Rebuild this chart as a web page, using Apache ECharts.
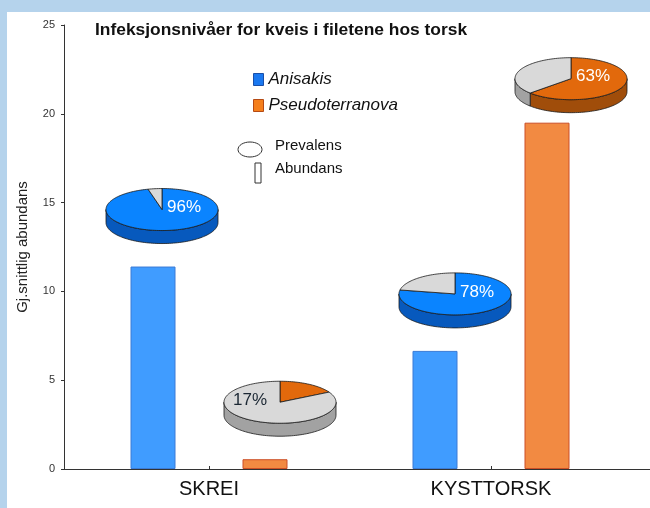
<!DOCTYPE html>
<html>
<head>
<meta charset="utf-8">
<script src="https://cdn.jsdelivr.net/npm/echarts@6/dist/echarts.min.js"></script>
<style>
  html, body { margin: 0; padding: 0; width: 650px; height: 508px; background: #b5d3ec; overflow: hidden; }
  #chart { position: absolute; left: 7px; top: 12px; width: 643px; height: 496px; background: #fff; }
</style>
</head>
<body>
<div id="chart"></div>
<script>
// data
const categories = ['SKREI', 'KYSTTORSK']
const speciesNames = ['Anisakis', 'Pseudoterranova']
const anisakisAbundance = [11.4, 6.65]
const pseudoAbundance = [0.55, 19.5]
const anisakisPrevalence = [96, 78]
const pseudoPrevalence = [17, 63]

// layout / style
const FONT = '"Liberation Sans", Arial, sans-serif'
const BAR_W = 45
const BAR_GAP = 67
const PIE = { rx: 56, ry: 21, depth: 13 }
// pie centre relative to the top of its bar, [species][category]
const pieNudge = [
  [[9, -57], [20, -57]],
  [[15, -57], [24, -44]],
]
const EDGE = '#1a1a1a'
const pieColors = [
  { top: '#0a84ff', side: '#0759bd' },
  { top: '#e2690c', side: '#a04d0a' },
]
const greyPie = { top: '#d9d9d9', side: '#a2a2a2' }

function ellipsePt(cx, cy, deg, dy) {
  const r = deg * Math.PI / 180
  return [cx + PIE.rx * Math.sin(r), cy - PIE.ry * Math.cos(r) + dy]
}

function arcPts(cx, cy, a, b, dy) {
  const pts = []
  const n = Math.max(2, Math.ceil((b - a) / 2))
  for (let i = 0; i <= n; i++) pts.push(ellipsePt(cx, cy, a + (b - a) * i / n, dy))
  return pts
}

function renderPie(params, api) {
  const cat = api.value(0)
  const s = api.value(2)
  const pct = api.value(3)
  const base = api.coord([cat, api.value(1)])
  const shift = (s === 0 ? -1 : 1) * (BAR_W + BAR_GAP) / 2
  const cx = base[0] + shift + pieNudge[s][cat][0]
  const cy = base[1] + pieNudge[s][cat][1]
  const col = pieColors[s]
  const split = pct * 3.6
  const slices = [
    [0, split, col.top, col.side],
    [split, 360, greyPie.top, greyPie.side],
  ]
  const children = []
  // front rim
  slices.forEach(([a, b, , side]) => {
    const lo = Math.max(a, 90)
    const hi = Math.min(b, 270)
    if (hi <= lo) return
    const upper = arcPts(cx, cy, lo, hi, 0)
    const lower = arcPts(cx, cy, lo, hi, PIE.depth).reverse()
    children.push({
      type: 'polygon',
      shape: { points: upper.concat(lower) },
      style: { fill: side, stroke: EDGE, lineWidth: 0.8 },
    })
  })
  // top face
  slices.forEach(([a, b, top]) => {
    if (b <= a) return
    children.push({
      type: 'polygon',
      shape: { points: [[cx, cy]].concat(arcPts(cx, cy, a, b, 0)) },
      style: { fill: top, stroke: EDGE, lineWidth: 0.8 },
    })
  })
  const major = pct >= 50
  children.push({
    type: 'text',
    style: {
      text: pct + '%',
      x: cx + (major ? 22 : -30),
      y: cy - 2,
      fill: major ? '#ffffff' : '#1b2733',
      font: '17px ' + FONT,
      align: 'center',
      verticalAlign: 'middle',
    },
  })
  return { type: 'group', children }
}

const pieData = []
categories.forEach((c, i) => {
  pieData.push([i, anisakisAbundance[i], 0, anisakisPrevalence[i]])
  pieData.push([i, pseudoAbundance[i], 1, pseudoPrevalence[i]])
})

const chart = echarts.init(document.getElementById('chart'))

chart.setOption({
  animation: false,
  title: {
    text: 'Infeksjonsnivåer for kveis i filetene hos torsk',
    left: 88,
    top: 10,
    padding: 0,
    textStyle: { fontFamily: FONT, fontSize: 17.4, fontWeight: 'bold', color: '#111' },
  },
  legend: {
    orient: 'vertical',
    left: 246,
    top: 59,
    icon: 'rect',
    itemWidth: 10,
    itemHeight: 12,
    itemGap: 9,
    padding: 0,
    data: [
      { name: speciesNames[0], itemStyle: { color: '#1a78f0', borderColor: '#1a4fa8', borderWidth: 1 } },
      { name: speciesNames[1], itemStyle: { color: '#f57f1c', borderColor: '#b54a14', borderWidth: 1 } },
    ],
    textStyle: { fontFamily: FONT, fontSize: 17, fontStyle: 'italic', color: '#111' },
  },
  graphic: [
    { type: 'ellipse', shape: { cx: 243, cy: 137.5, rx: 12, ry: 7.5 }, style: { fill: '#fff', stroke: '#333', lineWidth: 1 } },
    { type: 'text', x: 268, y: 134, style: { text: 'Prevalens', font: '15px ' + FONT, fill: '#111', verticalAlign: 'middle' } },
    { type: 'rect', shape: { x: 248, y: 151, width: 6, height: 20 }, style: { fill: '#fff', stroke: '#333', lineWidth: 1 } },
    { type: 'text', x: 268, y: 157, style: { text: 'Abundans', font: '15px ' + FONT, fill: '#111', verticalAlign: 'middle' } },
  ],
  grid: [
    { left: 59, top: 13, width: 566, bottom: 39 },
    { left: 55, top: 13, right: 0, bottom: 39 },
  ],
  xAxis: [
    {
      type: 'category',
      data: categories,
      axisLine: { show: false },
      axisTick: { show: true, alignWithLabel: true, inside: true, length: 3, lineStyle: { color: '#333' } },
      axisLabel: { fontFamily: FONT, fontSize: 20, color: '#111', margin: 10 },
    },
    {
      type: 'value',
      gridIndex: 1,
      min: 0,
      max: 1,
      axisLine: { show: true, lineStyle: { color: '#333', width: 1 } },
      axisTick: { show: false },
      axisLabel: { show: false },
      splitLine: { show: false },
    },
  ],
  yAxis: [
    {
      type: 'value',
      min: 0,
      max: 25,
      interval: 5,
      offset: 4,
      name: 'Gj.snittlig abundans',
      nameLocation: 'middle',
      nameGap: 34,
      nameTextStyle: { fontFamily: FONT, fontSize: 15, color: '#222' },
      axisLine: { show: true, lineStyle: { color: '#333', width: 1 } },
      axisTick: { show: true, length: 3, lineStyle: { color: '#333' } },
      axisLabel: { fontFamily: FONT, fontSize: 11, color: '#333', margin: 9 },
      splitLine: { show: false },
    },
    { type: 'value', gridIndex: 1, show: false },
  ],
  series: [
    {
      name: speciesNames[0],
      type: 'bar',
      data: anisakisAbundance,
      barWidth: BAR_W,
      barGap: (BAR_GAP / BAR_W * 100) + '%',
      itemStyle: { color: '#409cff', borderColor: '#3a7bd6', borderWidth: 1 },
    },
    {
      name: speciesNames[1],
      type: 'bar',
      data: pseudoAbundance,
      barWidth: BAR_W,
      itemStyle: { color: '#f28a42', borderColor: '#cc4f26', borderWidth: 1 },
    },
    {
      name: 'Prevalens',
      type: 'custom',
      renderItem: renderPie,
      data: pieData,
      encode: { x: 0, y: 1 },
      z: 5,
      silent: true,
    },
  ],
})
</script>
</body>
</html>
